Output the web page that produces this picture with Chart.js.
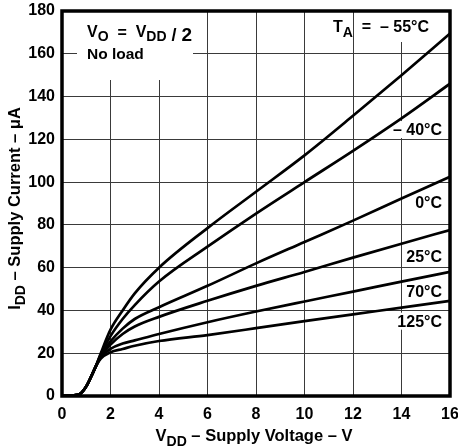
<!DOCTYPE html>
<html>
<head>
<meta charset="utf-8">
<script src="https://cdn.jsdelivr.net/npm/chart.js@4/dist/chart.umd.min.js"></script>
<style>
    html, body { margin: 0; padding: 0; background: #fff; }
    #wrap { width: 458px; height: 448px; }
</style>
</head>
<body>
<div id="wrap"><canvas id="iddChart" width="458" height="448"></canvas></div>
<script>
// supply voltage (V) sample points shared by every curve
const voltage = [0, 0.5, 0.75, 1, 1.2, 1.4, 1.6, 2, 2.5, 3, 4, 6, 8, 10, 12, 14, 16];

// supply current (uA) per ambient temperature
const iddM55 = [0, 0.3, 1, 4.5, 9, 14, 20, 31, 40, 48, 60, 78.5, 95.5, 112.5, 131, 150, 169.5];
const iddM40 = [0, 0.3, 1, 4.5, 9, 14, 19.5, 28, 36, 42.5, 53.5, 69.8, 85.3, 100, 114.6, 129.8, 146];
const idd0 = [0, 0.3, 1, 4.5, 9, 14, 19, 25.5, 31.5, 36, 41.5, 51.5, 62, 72, 82, 92.3, 102.5];
const idd25 = [0, 0.3, 1, 4.5, 9, 14, 18.5, 24, 29, 32.5, 37, 44.5, 51.5, 58, 64.7, 71.2, 77.6];
const idd70 = [0, 0.3, 1, 4.5, 9, 14, 18, 22, 24.5, 26, 29, 34.5, 39.5, 44.2, 48.8, 53.5, 58];
const idd125 = [0, 0.3, 1, 4.5, 9, 14, 17.5, 20.5, 22, 23.5, 25.7, 28.5, 31.7, 35, 38.2, 41.3, 44.5];

const seriesNames = ['– 55°C', '– 40°C', '0°C', '25°C', '70°C', '125°C'];

const xTicks = [0, 2, 4, 6, 8, 10, 12, 14, 16];
const yTicks = [0, 20, 40, 60, 80, 100, 120, 140, 160, 180];

document.addEventListener('DOMContentLoaded', function() {

    const FONT = '"Liberation Sans", Arial, Helvetica, sans-serif';

    function pts(arr) {
        return voltage.map(function(v, i) { return { x: v, y: arr[i] }; });
    }

    /* ─── text pieces with own size / baseline shift ─── */
    function richWidth(ctx, parts) {
        let w = 0;
        parts.forEach(function(p) {
            ctx.font = 'bold ' + p.s + 'px ' + FONT;
            w += ctx.measureText(p.t).width;
        });
        return w;
    }

    function drawRich(ctx, parts, x, y, align) {
        const w = richWidth(ctx, parts);
        let cx = align === 'center' ? x - w / 2 : (align === 'right' ? x - w : x);
        ctx.textBaseline = 'alphabetic';
        ctx.textAlign = 'left';
        parts.forEach(function(p) {
            ctx.font = 'bold ' + p.s + 'px ' + FONT;
            ctx.fillText(p.t, cx, y + (p.dy || 0));
            cx += ctx.measureText(p.t).width;
        });
        return { left: cx - w, right: cx };
    }

    // curve label anchors: right edge at 15.67 V, baseline at these currents
    const labelVolt = 15.67;
    const labelCurrent = [122, 87.9, 62.8, 46.4, 32.4];

    /* ─── white patches behind notes (hide grid) ─── */
    const patches = {
        id: 'patches',
        beforeDatasetsDraw: function(chart) {
            const ctx = chart.ctx;
            const xs = chart.scales.x;
            const ys = chart.scales.y;
            ctx.save();
            ctx.fillStyle = '#fff';
            ctx.fillRect(77, 12, 116, 68);
            ctx.fillRect(372, 12, 76, 30);
            seriesNames.slice(1).forEach(function(name, i) {
                ctx.font = 'bold 16px ' + FONT;
                const w = ctx.measureText(name).width;
                const rx = xs.getPixelForValue(labelVolt);
                const by = ys.getPixelForValue(labelCurrent[i]);
                ctx.fillRect(rx - w - 2, by - 14, w + 4, 17);
            });
            ctx.restore();
        }
    };

    /* ─── frame, notes and curve labels ─── */
    const decorations = {
        id: 'decorations',
        afterDatasetsDraw: function(chart) {
            const ctx = chart.ctx;
            const a = chart.chartArea;
            const xs = chart.scales.x;
            const ys = chart.scales.y;

            ctx.save();
            ctx.strokeStyle = '#000';
            ctx.lineWidth = 3.5;
            ctx.strokeRect(a.left, a.top, a.right - a.left, a.bottom - a.top);

            ctx.fillStyle = '#000';
            drawRich(ctx, [
                { t: 'V', s: 16 }, { t: 'O', s: 14, dy: 4 },
                { t: '  =  ', s: 16, dy: 1 },
                { t: 'V', s: 16 }, { t: 'DD', s: 14, dy: 4 },
                { t: ' / ', s: 18, dy: 4 }, { t: '2', s: 19, dy: 4 }
            ], 87, 37, 'left');
            drawRich(ctx, [{ t: 'No load', s: 15.5 }], 87, 59, 'left');
            drawRich(ctx, [
                { t: 'T', s: 16 }, { t: 'A', s: 14, dy: 5 },
                { t: '  =  ' + seriesNames[0], s: 16 }
            ], 429, 32, 'right');

            seriesNames.slice(1).forEach(function(name, i) {
                drawRich(ctx, [{ t: name, s: 16 }], xs.getPixelForValue(labelVolt),
                    ys.getPixelForValue(labelCurrent[i]), 'right');
            });

            // axis titles
            drawRich(ctx, [{ t: 'V', s: 16.5 }, { t: 'DD', s: 14, dy: 5 }, { t: ' – Supply Voltage – V', s: 16.5 }],
                254, 441, 'center');

            ctx.translate(20, (a.top + a.bottom) / 2 + 5);
            ctx.rotate(-Math.PI / 2);
            drawRich(ctx, [{ t: 'I', s: 16.5 }, { t: 'DD', s: 14, dy: 5 }, { t: ' – Supply Current – μA', s: 16.5 }],
                0, 0, 'center');
            ctx.restore();
        }
    };

    const curves = [iddM55, iddM40, idd0, idd25, idd70, idd125];

    new Chart(document.getElementById('iddChart'), {
        type: 'scatter',
        data: {
            datasets: curves.map(function(arr, i) {
                return {
                    label: seriesNames[i],
                    data: pts(arr),
                    showLine: true,
                    borderColor: '#000',
                    borderWidth: 2.7,
                    pointRadius: 0,
                    cubicInterpolationMode: 'monotone',
                    fill: false,
                };
            })
        },
        options: {
            responsive: false,
            animation: false,
            layout: { padding: { top: 11, right: 8, left: 0, bottom: 0 } },
            plugins: { legend: { display: false }, tooltip: { enabled: false } },
            scales: {
                x: {
                    type: 'linear',
                    min: 0,
                    max: 16,
                    afterBuildTicks: function(scale) { scale.ticks = xTicks.map(function(v) { return { value: v }; }); },
                    afterFit: function(scale) {
                        scale.height = 52;
                        scale.paddingLeft = 0;
                        scale.paddingRight = 0;
                    },
                    grid: { color: '#3a3a3a', lineWidth: 1, drawTicks: false },
                    border: { display: false },
                    ticks: { color: '#000', padding: 9, maxRotation: 0, font: { family: FONT, size: 16, weight: 'bold' } }
                },
                y: {
                    type: 'linear',
                    min: 0,
                    max: 180,
                    afterBuildTicks: function(scale) { scale.ticks = yTicks.map(function(v) { return { value: v }; }); },
                    afterFit: function(scale) {
                        scale.width = 62;
                        scale.paddingTop = 0;
                        scale.paddingBottom = 0;
                    },
                    grid: { color: '#3a3a3a', lineWidth: 1, drawTicks: false },
                    border: { display: false },
                    ticks: { color: '#000', padding: 7, font: { family: FONT, size: 16, weight: 'bold' } }
                }
            }
        },
        plugins: [patches, decorations]
    });

}); // DOMContentLoaded
</script>
</body>
</html>
